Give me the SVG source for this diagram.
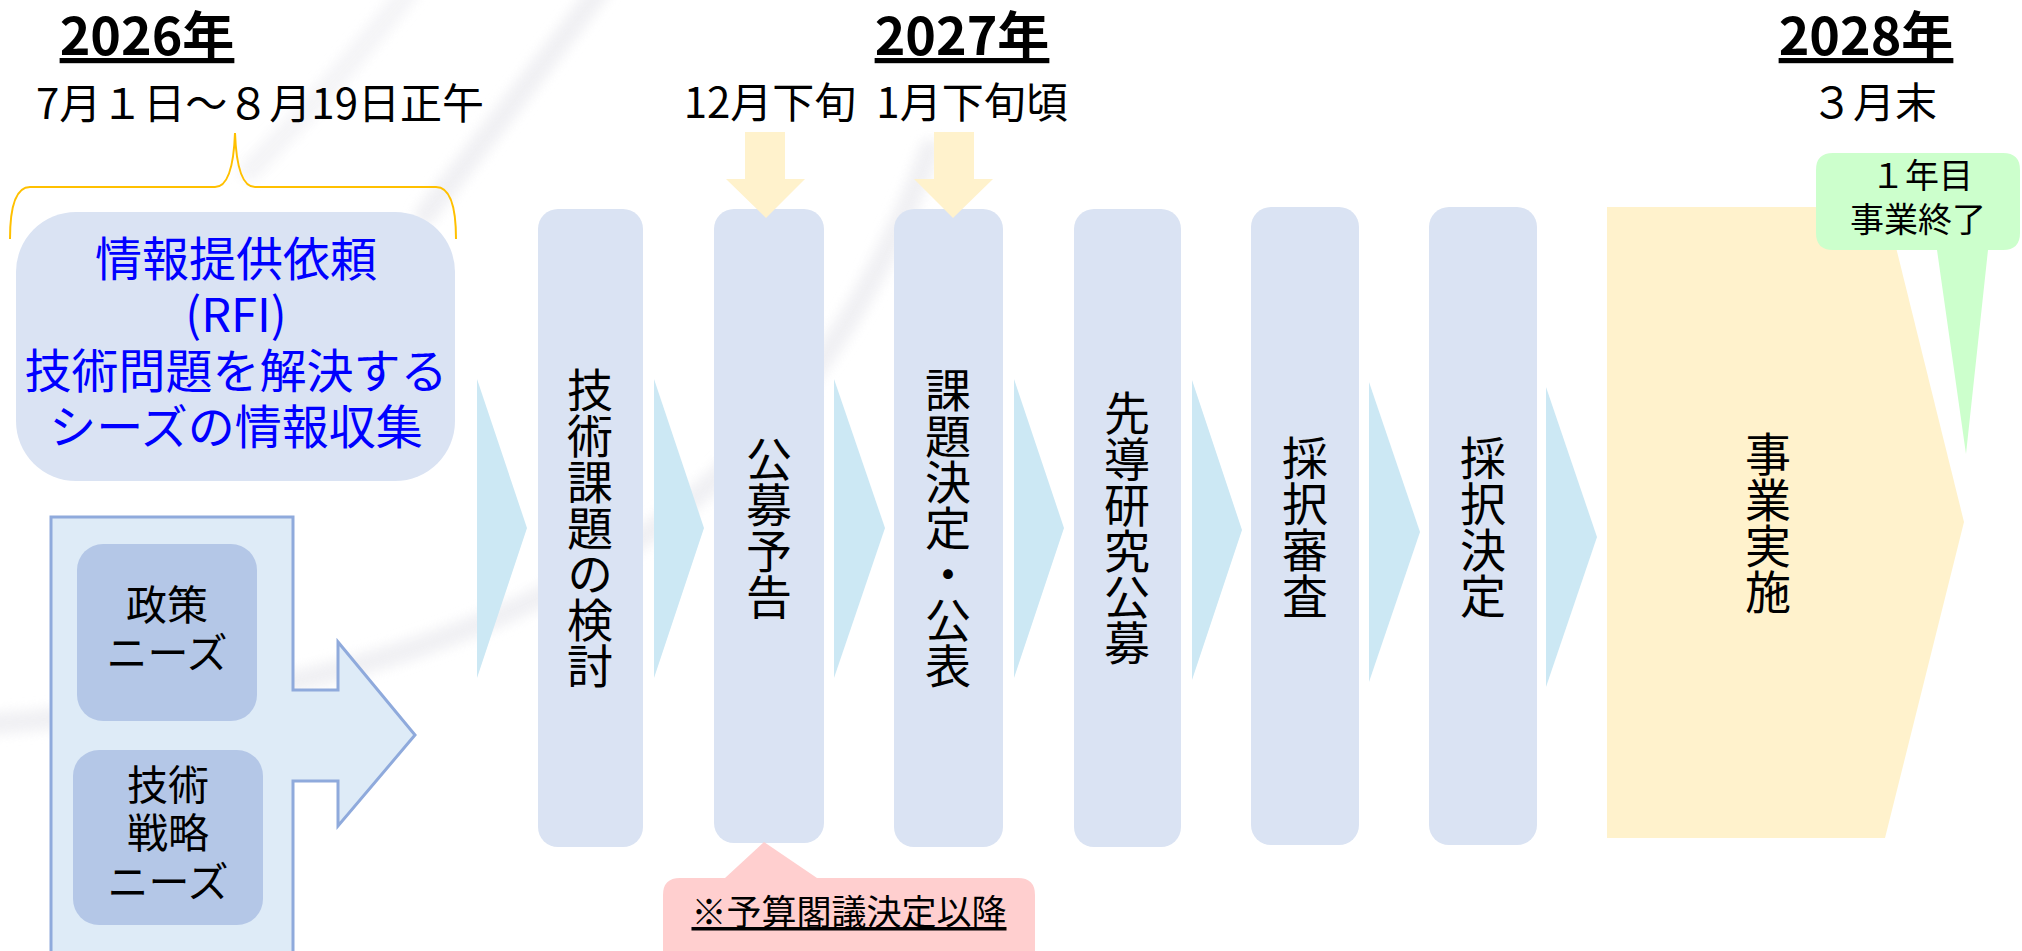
<svg xmlns="http://www.w3.org/2000/svg" width="2022" height="951" viewBox="0 0 2022 951">
<style>
text{font-family:"Noto Sans CJK JP","Noto Sans",sans-serif;fill:#000}
.yr{font-size:52px;font-weight:bold;text-decoration:underline}
.dt{font-size:42px}
.col{fill:#DAE3F3}
.vt{font-size:46px;writing-mode:vertical-rl}
.chev{fill:#CCE8F4}
.ydown{fill:#FFF2CC}
.need{fill:#B4C7E7}
.nt{font-size:41px}
.rfit{font-size:47px;fill:#0000FF}
.bg{fill:none;stroke:#EDEDF1;stroke-width:22;stroke-linecap:round}
</style>
<defs>
<filter id="soft" x="-20%" y="-20%" width="140%" height="140%"><feGaussianBlur stdDeviation="6"/></filter>
</defs>
<rect width="2022" height="951" fill="#fff"/>
<g id="background" filter="url(#soft)" opacity="0.8">
<path class="bg" d="M-10,724 C450,690 780,560 930,150"/>
<path class="bg" d="M600,-10 Q500,120 425,215"/>
<path class="bg" d="M410,-10 Q330,90 250,170" opacity="0.7"/>
</g>
<g id="timeline-labels" text-anchor="middle">
<text class="yr" x="147" y="55">2026年</text>
<text class="yr" x="962" y="55">2027年</text>
<text class="yr" x="1866" y="55">2028年</text>
<text class="dt" x="260" y="119">7月１日～８月19日正午</text>
<text class="dt" x="770" y="118">12月下旬</text>
<text class="dt" x="972" y="118">1月下旬頃</text>
<text class="dt" x="1874" y="118">３月末</text>
</g>
<g id="connectors">
<path d="M10,239 Q10,187 30,187 L215,187 Q233,187 235,133 Q237,187 255,187 L436,187 Q456,187 456,239" fill="none" stroke="#FFC000" stroke-width="2"/>
<polygon class="chev" points="477,379 527,528 477,678"/>
<polygon class="chev" points="654,379 704,528 654,678"/>
<polygon class="chev" points="834,379 885,528 834,678"/>
<polygon class="chev" points="1014,379 1064,528 1014,678"/>
<polygon class="chev" points="1192,380 1242,530 1192,680"/>
<polygon class="chev" points="1369,382 1420,532 1369,682"/>
<polygon class="chev" points="1546,387 1597,537 1546,687"/>
</g>
<g id="rfi">
<rect x="16" y="212" width="439" height="269" rx="60" fill="#DAE3F3"/>
<g text-anchor="middle">
<text class="rfit" x="236" y="276">情報提供依頼</text>
<text class="rfit" x="236" y="332">(RFI)</text>
<text class="rfit" x="236" y="388">技術問題を解決する</text>
<text class="rfit" x="236" y="444">シーズの情報収集</text>
</g>
</g>
<g id="needs">
<polygon points="51,517 293,517 293,690 338,690 338,642 415,735 338,826 338,781 293,781 293,960 51,960" fill="#DEEBF7" stroke="#8FAADC" stroke-width="3"/>
<g id="policy-needs">
<rect class="need" x="77" y="544" width="180" height="177" rx="26"/>
<text class="nt" x="167" y="620" text-anchor="middle">政策</text>
<text class="nt" x="167" y="668" text-anchor="middle">ニーズ</text>
</g>
<g id="tech-needs">
<rect class="need" x="73" y="750" width="190" height="175" rx="26"/>
<text class="nt" x="168" y="800" text-anchor="middle">技術</text>
<text class="nt" x="168" y="848" text-anchor="middle">戦略</text>
<text class="nt" x="168" y="897" text-anchor="middle">ニーズ</text>
</g>
</g>
<g id="step1"><rect class="col" x="538" y="209" width="105" height="638" rx="20"/><text class="vt" x="590" y="528" text-anchor="middle">技術課題の検討</text></g>
<g id="step2"><rect class="col" x="714" y="209" width="110" height="634" rx="20"/><text class="vt" x="769" y="528" text-anchor="middle">公募予告</text></g>
<g id="step3"><rect class="col" x="894" y="209" width="109" height="638" rx="20"/><text class="vt" x="948" y="528" text-anchor="middle">課題決定・公表</text></g>
<g id="step4"><rect class="col" x="1074" y="209" width="107" height="638" rx="20"/><text class="vt" x="1127" y="528" text-anchor="middle">先導研究公募</text></g>
<g id="step5"><rect class="col" x="1251" y="207" width="108" height="638" rx="20"/><text class="vt" x="1305" y="527" text-anchor="middle">採択審査</text></g>
<g id="step6"><rect class="col" x="1429" y="207" width="108" height="638" rx="20"/><text class="vt" x="1483" y="527" text-anchor="middle">採択決定</text></g>
<g id="implementation">
<polygon points="1607,207 1886,207 1964,522 1885,838 1607,838" fill="#FFF2CC"/>
<text class="vt" x="1768" y="523" text-anchor="middle">事業実施</text>
</g>
<g id="date-arrows">
<polygon class="ydown" points="745,132 785,132 785,179 805,179 766,218 726,179 745,179"/>
<polygon class="ydown" points="934,132 974,132 974,179 993,179 953,218 914,179 934,179"/>
</g>
<g id="year-end-callout">
<path d="M1833,153 L2003,153 Q2020,153 2020,170 L2020,233 Q2020,250 2003,250 L1988,250 L1966,454 L1937,250 L1833,250 Q1816,250 1816,233 L1816,170 Q1816,153 1833,153 Z" fill="#CCFFCC"/>
<text x="1922" y="188" text-anchor="middle" style="font-size:34px">１年目</text>
<text x="1918" y="232" text-anchor="middle" style="font-size:34px">事業終了</text>
</g>
<g id="budget-callout">
<path d="M680,878 L725,878 L764,842 L817,878 L1018,878 Q1035,878 1035,895 L1035,960 L663,960 L663,895 Q663,878 680,878 Z" fill="#FFCCCC" fill-opacity="0.95"/>
<text x="849" y="925" text-anchor="middle" style="font-size:35px;text-decoration:underline">※予算閣議決定以降</text>
</g>
</svg>
